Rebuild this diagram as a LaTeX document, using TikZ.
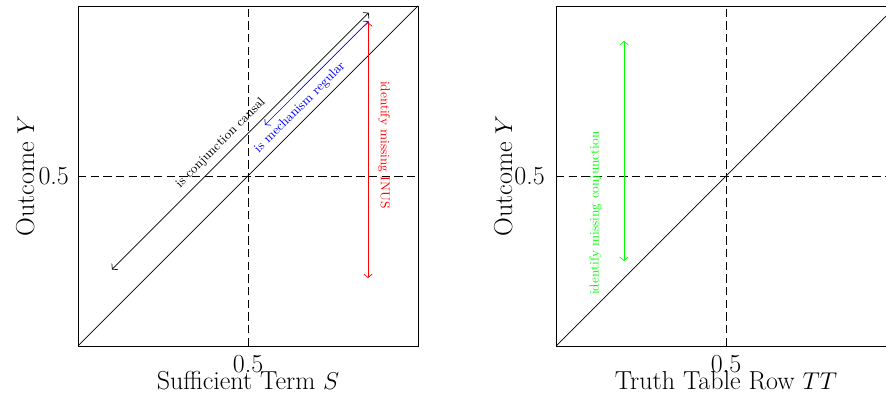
\documentclass[tikz,border=0pt]{standalone}
\usepackage{amsmath}
\usetikzlibrary{positioning, calc, arrows.meta}
\definecolor{Ink}{HTML}{000000}
\definecolor{Regular}{HTML}{0000FF}
\definecolor{Inus}{HTML}{FF0000}
\definecolor{Conj}{HTML}{00FF00}
\tikzset{
    frame/.style={draw=Ink, line width=0.6pt},
    guide/.style={draw=Ink, line width=0.6pt, dash pattern=on 6pt off 3pt},
    diag/.style={draw=Ink, line width=0.5pt},
    biarrow/.style={{Straight Barb[length=2.5pt,width=6pt]}-{Straight Barb[length=2.5pt,width=6pt]}, line width=0.5pt},
    ticklabel/.style={font=\fontsize{18.5}{20}\selectfont, inner sep=0pt},
    axislabel/.style={font=\fontsize{18.5}{20}\selectfont, inner sep=0pt, anchor=base},
    note/.style={font=\fontsize{9.2}{11}\selectfont, inner sep=0pt},
}
\begin{document}
\begin{tikzpicture}
    \useasboundingbox (0,0) rectangle (22.15,10);
    \clip (0,0) rectangle (22.15,10);

    % Left panel: sufficient term
    \begin{scope}[shift={(1.95,1.35)}, x=8.5cm, y=8.5cm]
        \draw[guide] (0.5,0) -- (0.5,1);
        \draw[guide] (0,0.5) -- (1,0.5);
        \draw[diag] (0,0) -- (1,1);
        \draw[frame] (0,0) rectangle (1,1);

        % Arrow ends
        \coordinate (cc-lo) at (0.1,0.225);
        \coordinate (cc-hi) at (0.855,0.98);
        \coordinate (mr-lo) at (0.55,0.65);
        \coordinate (mr-hi) at (0.855,0.955);
        \coordinate (inus-hi) at (0.853,0.952);
        \coordinate (inus-lo) at (0.853,0.2);

        \draw[biarrow, Ink] (cc-lo) -- (cc-hi);
        \draw[biarrow, Regular] (mr-lo) -- (mr-hi);
        \draw[biarrow, Inus] (inus-hi) -- (inus-lo);

        % Notes
        \node[note, rotate=45, text=Ink] (cc-text) at (0.42,0.597) {is conjunction causal};
        \node[note, rotate=45, text=Regular] (mr-text) at (0.653,0.701) {is mechanism regular};
        \node[note, rotate=-90, text=Inus] (inus-text) at (0.9,0.591) {identify missing INUS};

        % Axes
        \node[ticklabel, anchor=base] (s-tick) at (0.5,-0.079) {0.5};
        \node[ticklabel, anchor=east] (sy-tick) at (-0.026,0.5) {0.5};
        \node[axislabel] (s-label) at (0.5,-0.129) {Sufficient Term $S$};
        \node[axislabel, rotate=90] (sy-label) at (-0.129,0.5) {Outcome $Y$};
    \end{scope}

    % Right panel: truth table row
    \begin{scope}[shift={(13.9,1.35)}, x=8.5cm, y=8.5cm]
        \draw[guide] (0.5,0) -- (0.5,1);
        \draw[guide] (0,0.5) -- (1,0.5);
        \draw[diag] (0,0) -- (1,1);
        \draw[frame] (0,0) rectangle (1,1);

        \coordinate (conj-hi) at (0.2,0.897);
        \coordinate (conj-lo) at (0.2,0.25);
        \draw[biarrow, Conj] (conj-hi) -- (conj-lo);
        \node[note, rotate=90, text=Conj] (conj-text) at (0.116,0.391) {identify missing conjunction};

        % Axes
        \node[ticklabel, anchor=base] (tt-tick) at (0.5,-0.079) {0.5};
        \node[ticklabel, anchor=east] (ty-tick) at (-0.032,0.5) {0.5};
        \node[axislabel] (tt-label) at (0.5,-0.129) {Truth Table Row $TT$};
        \node[axislabel, rotate=90] (ty-label) at (-0.129,0.5) {Outcome $Y$};
    \end{scope}
\end{tikzpicture}
\end{document}
